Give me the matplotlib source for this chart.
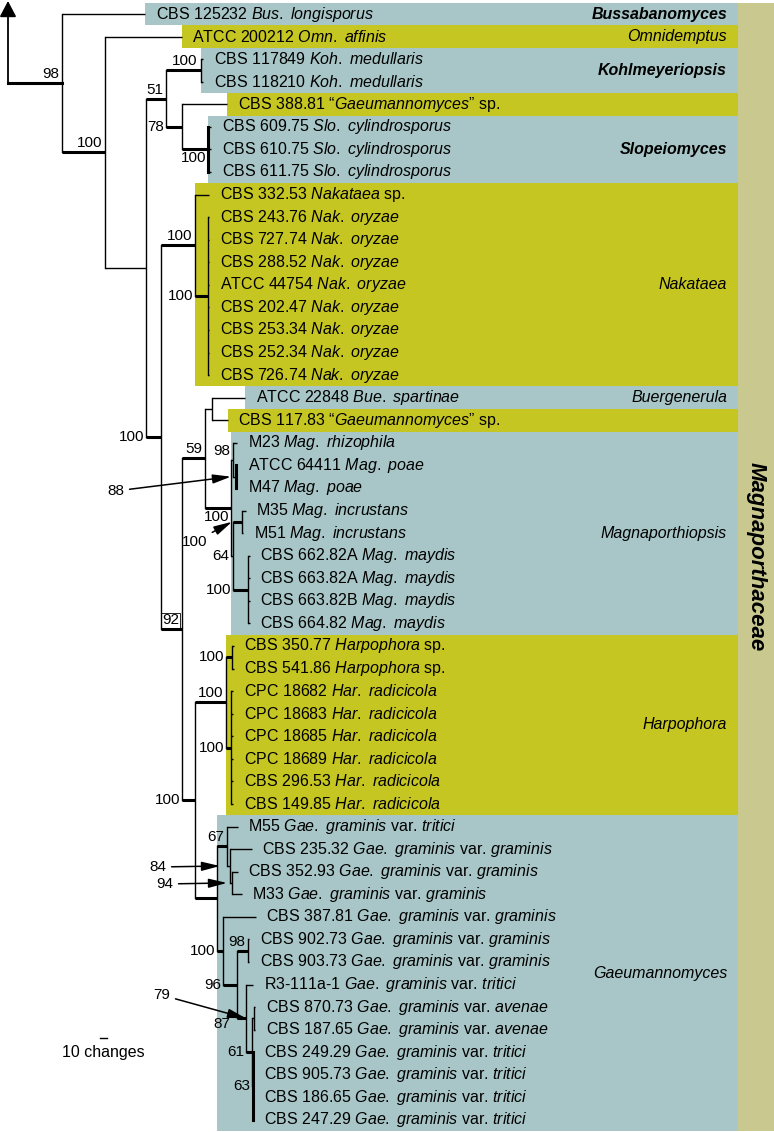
import matplotlib.pyplot as plt
from matplotlib.patches import Rectangle

plt.rcParams['font.family'] = ['Liberation Sans', 'DejaVu Sans']
plt.rcParams['mathtext.fontset'] = 'custom'
plt.rcParams['mathtext.rm'] = 'Liberation Sans'
plt.rcParams['mathtext.it'] = 'Liberation Sans:italic'

# tips, top to bottom
tip_ids = ["CBS 125232", "ATCC 200212", "CBS 117849", "CBS 118210", "CBS 388.81",
           "CBS 609.75", "CBS 610.75", "CBS 611.75", "CBS 332.53", "CBS 243.76",
           "CBS 727.74", "CBS 288.52", "ATCC 44754", "CBS 202.47", "CBS 253.34",
           "CBS 252.34", "CBS 726.74", "ATCC 22848", "CBS 117.83", "M23",
           "ATCC 64411", "M47", "M35", "M51", "CBS 662.82A",
           "CBS 663.82A", "CBS 663.82B", "CBS 664.82", "CBS 350.77", "CBS 541.86",
           "CPC 18682", "CPC 18683", "CPC 18685", "CPC 18689", "CBS 296.53",
           "CBS 149.85", "M55", "CBS 235.32", "CBS 352.93", "M33",
           "CBS 387.81", "CBS 902.73", "CBS 903.73", "R3-111a-1", "CBS 870.73",
           "CBS 187.65", "CBS 249.29", "CBS 905.73", "CBS 186.65", "CBS 247.29"]
gg = "Gae. graminis var. graminis"
gt = "Gae. graminis var. tritici"
ga = "Gae. graminis var. avenae"
tip_taxa = ["Bus. longisporus", "Omn. affinis", "Koh. medullaris", "Koh. medullaris",
            "“Gaeumannomyces” sp."] + ["Slo. cylindrosporus"] * 3 + \
           ["Nakataea sp."] + ["Nak. oryzae"] * 8 + \
           ["Bue. spartinae", "“Gaeumannomyces” sp.", "Mag. rhizophila", "Mag. poae", "Mag. poae"] + \
           ["Mag. incrustans"] * 2 + ["Mag. maydis"] * 4 + ["Harpophora sp."] * 2 + \
           ["Har. radicicola"] * 6 + [gt, gg, gg, gg, gg, gg, gg, gt, ga, ga, gt, gt, gt, gt]
tip_depth = [145, 182, 203, 203, 227, 211, 211, 211, 209, 209,
             209, 209, 209, 209, 209, 209, 209, 245, 228, 237,
             237, 237, 246, 243, 250, 250, 250, 250, 234, 234,
             233, 233, 233, 233, 233, 233, 238, 252, 238, 242,
             256, 249, 249, 253, 255, 255, 253, 253, 253, 253]

# internal nodes: name -> (depth, children); ints are tip indices
nodes = {
    'n98': (62, [0, 'n100a']),
    'n100a': (105, [1, 'nB']),
    'nB': (146, ['n51', 'nC']),
    'n51': (166, ['nKoh', 'n78']),
    'nKoh': (200.5, [2, 3]),
    'n78': (182, [4, 'nSlo']),
    'nSlo': (208, [5, 6, 7]),
    'nC': (161, ['nNak', 'nD']),
    'nNak': (195, [8, 'nNak2']),
    'nNak2': (208, [9, 10, 11, 12, 13, 14, 15, 16]),
    'nD': (182, ['n59', 'nHG']),
    'n59': (205, ['nBue', 'nMag']),
    'nBue': (212, [17, 18]),
    'nMag': (231, ['nPoae', 'nIM']),
    'nPoae': (233, [19, 'n88']),
    'n88': (236, [20, 21]),
    'nIM': (233, ['nInc', 'nMay']),
    'nInc': (242, [22, 23]),
    'nMay': (248, [24, 25, 26, 27]),
    'nHG': (195, ['nHarp', 'nGae']),
    'nHarp': (226, ['nHsp', 'nHrad']),
    'nHsp': (232, [28, 29]),
    'nHrad': (231, [30, 31, 32, 33, 34, 35]),
    'nGae': (217, ['n67', 'nG100']),
    'n67': (227, [36, 'n84']),
    'n84': (230, [37, 'n94']),
    'n94': (232, [38, 39]),
    'nG100': (223, [40, 'n96']),
    'n96': (237, ['n98b', 'n87']),
    'n98b': (248, [41, 42]),
    'n87': (246, [43, 'n61']),
    'n61': (252, ['nAv', 'n63']),
    'nAv': (253.5, [44, 45]),
    'n63': (252.5, [46, 47, 48, 49]),
}
thick_stems = {'n98', 'n100a', 'n51', 'nKoh', 'n78', 'nSlo', 'nC', 'nNak', 'nNak2', 'nD',
               'n59', 'nMag', 'nInc', 'nMay', 'nHG', 'nHarp', 'nHsp', 'nHrad', 'nGae',
               'n67', 'nG100', 'n96', 'n98b', 'n87', 'n61'}
thick_verts = {'nSlo', 'n88', 'n63'}

# support values: (node, value, placement)
support = [('n98', '98', 'above'), ('n100a', '100', 'above'), ('n51', '51', 'above'),
           ('nKoh', '100', 'above'), ('n78', '78', 'left'), ('nSlo', '100', 'below'),
           ('nC', '100', 'left'), ('nNak', '100', 'above'), ('nNak2', '100', 'left'),
           ('nD', '92', 'above'), ('n59', '59', 'above'), ('nMag', '100', 'below'),
           ('nPoae', '98', 'above'), ('nIM', '64', 'left'), ('nMay', '100', 'left'),
           ('nHG', '100', 'left'), ('nHarp', '100', 'above'), ('nHsp', '100', 'left'),
           ('nHrad', '100', 'left'), ('n67', '67', 'above'), ('nG100', '100', 'left'),
           ('n96', '96', 'left'), ('n98b', '98', 'above'), ('n87', '87', 'left'),
           ('n61', '61', 'left'), ('n63', '63', 'left')]
nudge = {'n87': (-5, 6)}
# support values shown with arrows: (node, value, text position, gap)
support_arrows = [('n88', '88', (124, 491), 5), ('nInc', '100', (207, 542), 10),
                  ('n84', '84', (166, 867), 10), ('n94', '94', (173, 884), 5),
                  ('n87', '79', (170, 995), 0)]

group_names = ["Bussabanomyces", "Omnidemptus", "Kohlmeyeriopsis", "", "Slopeiomyces",
               "Nakataea", "Buergenerula", "", "Magnaporthiopsis", "Harpophora", "Gaeumannomyces"]
group_first = [0, 1, 2, 4, 5, 8, 17, 18, 19, 28, 36]
group_bold = [True, False, True, False, True, False, False, False, False, False, False]
family = "Magnaporthaceae"

blue, yellow, famcol = '#a8c6c7', '#c6c623', '#c9c98f'
y0, dy = 14, 22.57
tip_y = [y0 + i * dy for i in range(len(tip_ids))]
root_x = 8
thin, thick = 1.0, 2.2
fs = 11.5

parent = {}
for name, (x, kids) in nodes.items():
    for k in kids:
        parent[k] = name


def ypos(k):
    if isinstance(k, int):
        return tip_y[k]
    kids = nodes[k][1]
    return (ypos(kids[0]) + ypos(kids[-1])) / 2


def xpos(k):
    return tip_depth[k] if isinstance(k, int) else nodes[k][0]


def tips_of(k):
    if isinstance(k, int):
        return {k}
    s = set()
    for c in nodes[k][1]:
        s |= tips_of(c)
    return s


def fmt(tid, taxon):
    # roman for sp./var. and quotes, italic runs for the rest
    out, run = [], []
    for w in taxon.split(' ') + [None]:
        if w is None or w in ('sp.', 'var.') or w.startswith('“'):
            if run:
                out.append('$\\mathit{' + '\\ '.join(run) + '}$')
                run = []
            if w is None:
                break
            if w.startswith('“'):
                out.append('“$\\mathit{' + w[1:-1] + '}$”')
            else:
                out.append(w)
        else:
            run.append(w)
    return tid + ' ' + ' '.join(out)


fig = plt.figure(figsize=(7.74, 11.32), dpi=100)
ax = fig.add_axes([0, 0, 1, 1])
ax.set_xlim(0, 774)
ax.set_ylim(1132, 0)
ax.axis('off')

# coloured genus boxes
box_right = 738
last = group_first[1:] + [len(tip_ids)]
for gi, (first, nxt) in enumerate(zip(group_first, last)):
    members = set(range(first, nxt))
    left = None
    if len(members) == 1:
        left = tip_depth[first]
    else:
        for name in nodes:
            if tips_of(name) == members:
                left = nodes[name][0]
    top = tip_y[first] - dy / 2
    bot = tip_y[nxt - 1] + dy / 2
    ax.add_patch(Rectangle((left, top), box_right - left, bot - top,
                           fc=blue if gi % 2 == 0 else yellow, ec='none', zorder=0))
    if group_names[gi]:
        ax.text(727, (tip_y[first] + tip_y[nxt - 1]) / 2, group_names[gi], ha='right', va='center',
                fontsize=fs, style='italic', weight='bold' if group_bold[gi] else 'normal')

ax.add_patch(Rectangle((box_right, tip_y[0] - dy / 2), 774 - box_right,
                       tip_y[-1] - tip_y[0] + dy, fc=famcol, ec='none', zorder=0))
ax.text(756, 557, family, rotation=270, ha='center', va='center', fontsize=16,
        weight='bold', style='italic')

# branches
for name, (x, kids) in nodes.items():
    ys = [ypos(k) for k in kids]
    ax.plot([x, x], [min(ys), max(ys)], color='k', solid_capstyle='projecting',
            lw=thick if name in thick_verts else thin)
    for k in kids:
        ax.plot([x, xpos(k)], [ypos(k)] * 2, color='k', solid_capstyle='butt',
                lw=thick if k in thick_stems else thin)

# root stem and arrow
ax.plot([root_x, nodes['n98'][0]], [ypos('n98')] * 2, color='k', lw=thick, solid_capstyle='projecting')
ax.annotate('', xy=(root_x, 1), xytext=(root_x, ypos('n98')),
            arrowprops=dict(arrowstyle='-|>,head_length=0.8,head_width=0.42', color='k',
                            lw=1.3, shrinkA=0, shrinkB=0, mutation_scale=12))

# tip labels
for i in range(len(tip_ids)):
    ax.text(tip_depth[i] + 10.5, tip_y[i], fmt(tip_ids[i], tip_taxa[i]),
            va='center', ha='left', fontsize=fs)

# support values
for name, val, where in support:
    x, y = nodes[name][0], ypos(name)
    kw = dict(fontsize=11, ha='right')
    if val == '92':
        kw['bbox'] = dict(boxstyle='square,pad=0.05', fc='none', ec='k', lw=0.6)
    ddx, ddy = nudge.get(name, (0, 0))
    if where == 'above':
        ax.text(x - 3 + ddx, y - 2 + ddy, val, va='bottom', **kw)
    elif where == 'below':
        ax.text(x - 2 + ddx, y + 2 + ddy, val, va='top', **kw)
    else:
        ax.text(nodes[parent[name]][0] - 2 + ddx, y + ddy, val, va='center', **kw)

for name, val, txy, gap in support_arrows:
    ax.annotate(val, xy=(nodes[name][0] - gap, ypos(name)), xytext=txy,
                ha='right', va='center', fontsize=11,
                arrowprops=dict(arrowstyle='-|>,head_length=1.0,head_width=0.25', color='k',
                                lw=1.1, shrinkA=2, shrinkB=0))

# scale bar
scale_len = 7
ax.plot([100, 100 + scale_len], [1038, 1038], color='k', lw=1.0)
ax.text(103.5, 1052, '10 changes', ha='center', va='center', fontsize=fs)

fig.savefig('out.png', dpi=100)
